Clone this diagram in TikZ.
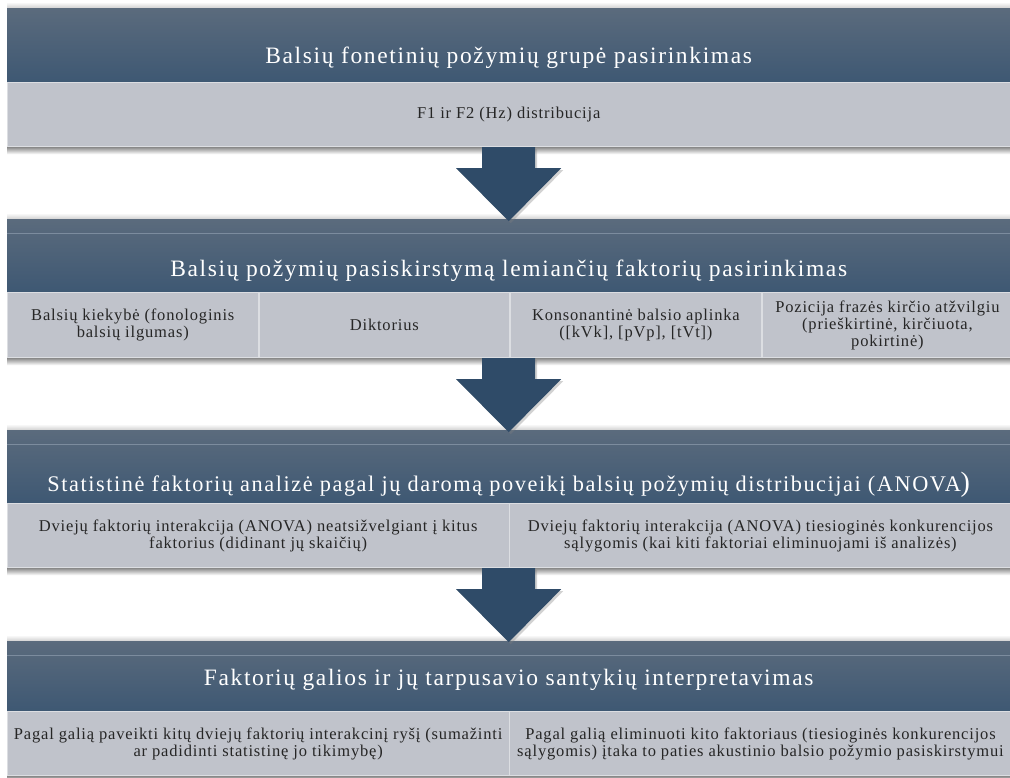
\documentclass[tikz,border=0pt]{standalone}
\usepackage{fontspec}
\setmainfont{Liberation Serif}[LetterSpace=5]
\newfontfamily\headfont{Liberation Serif}[LetterSpace=7]
\usetikzlibrary{positioning,calc,shadows}
\definecolor{hdrtop}{RGB}{91,107,125}
\definecolor{hdrbot}{RGB}{62,88,115}
\definecolor{hdrline}{RGB}{124,140,158}
\definecolor{cellfill}{RGB}{192,195,203}
\definecolor{cellline}{RGB}{220,222,226}
\definecolor{arrowfill}{RGB}{47,75,104}

\begin{document}
\begin{tikzpicture}[x=1pt,y=-1pt,
  hdr/.style={rectangle,top color=hdrtop,bottom color=hdrbot,minimum width=1003pt,anchor=north west,inner sep=0pt},
  htext/.style={text=white,font=\headfont\fontsize{23.5}{27}\selectfont,anchor=base},
  cell/.style={rectangle,fill=cellfill,draw=cellline,line width=0.8pt,anchor=north west,align=center,inner sep=0pt,text=black!85,font=\fontsize{16.5}{17}\selectfont},
  bigarrow/.style={fill=arrowfill,drop shadow={opacity=0.35,shadow xshift=2pt,shadow yshift=-2pt}},
  hline/.style={draw=hdrline,line width=0.8pt}]
   \useasboundingbox[fill=white] (0,0) rectangle (1010,777);
   \node[hdr,minimum height=75pt] (h1) at (7,7) {};
   \node[htext] (t1) at ($(h1.south)+(0,-19)$) {Balsių fonetinių požymių grupė pasirinkimas};
   \node[cell,minimum width=1003pt,minimum height=64pt,below=0pt of h1] (c1) {F1 ir F2 (Hz) distribucija};

   \node[hdr,minimum height=74pt] (h2) at (7,218) {};
   \node[htext] (t2) at ($(h2.south)+(0,-16)$) {Balsių požymių pasiskirstymą lemiančių faktorių pasirinkimas};
   \node[cell,minimum width=250.75pt,minimum height=65pt] (c2a) at (h2.south west) {Balsių kiekybė (fonologinis\\balsių ilgumas)};
   \node[cell,minimum width=250.75pt,minimum height=65pt,right=0pt of c2a] (c2b) {Diktorius};
   \node[cell,minimum width=250.75pt,minimum height=65pt,right=0pt of c2b] (c2c) {Konsonantinė balsio aplinka\\([kVk], [pVp], [tVt])};
   \node[cell,minimum width=250.75pt,minimum height=65pt,right=0pt of c2c] (c2d) {Pozicija frazės kirčio atžvilgiu\\(prieškirtinė, kirčiuota,\\pokirtinė)};

   \node[hdr,minimum height=74pt] (h3) at (7,429) {};
   \node[htext,font=\headfont\fontsize{22.3}{26}\selectfont] (t3) at ($(h3.south)+(0,-12)$) {Statistinė faktorių analizė pagal jų daromą poveikį balsių požymių distribucijai (ANOVA{\fontsize{28}{30}\selectfont)}};
   \node[cell,minimum width=501.5pt,minimum height=64pt] (c3a) at (h3.south west) {Dviejų faktorių interakcija (ANOVA) neatsižvelgiant į kitus\\faktorius (didinant jų skaičių)};
   \node[cell,minimum width=501.5pt,minimum height=64pt,right=0pt of c3a] (c3b) {Dviejų faktorių interakcija (ANOVA) tiesioginės konkurencijos\\sąlygomis (kai kiti faktoriai eliminuojami iš analizės)};

   \node[hdr,minimum height=71pt] (h4) at (7,640) {};
   \node[htext] (t4) at ($(h4.south)+(0,-26)$) {Faktorių galios ir jų tarpusavio santykių interpretavimas};
   \node[cell,minimum width=501.5pt,minimum height=64pt] (c4a) at (h4.south west) {Pagal galią paveikti kitų dviejų faktorių interakcinį ryšį (sumažinti\\ar padidinti statistinę jo tikimybę)};
   \node[cell,minimum width=501.5pt,minimum height=64pt,right=0pt of c4a] (c4b) {Pagal galią eliminuoti kito faktoriaus (tiesioginės konkurencijos\\sąlygomis) įtaka to paties akustinio balsio požymio pasiskirstymui};

   \foreach \h in {h2,h3,h4}
     \draw[hline] ($(\h.north west)+(0,15)$) -- ($(\h.north east)+(0,15)$);
   \foreach \h/\c in {h1/c1,h2/c2a,h3/c3a,h4/c4a} {
     \shade[top color=black!45,bottom color=white] (\h.west |- \c.south) rectangle ($(\h.east |- \c.south)+(0,7)$);
     \shade[top color=white,bottom color=black!15] ($(\h.north west)+(0,-5)$) rectangle (\h.north east);
   }
   \foreach \c in {c1,c2b,c3a}
     \fill[bigarrow] ($(\c.south -| h1.south)+(-26.5,0)$) -- ++(53,0) -- ++(0,21) -- ++(26,0)
       -- ++(-52.5,53) -- ++(-52.5,-53) -- ++(26,0) -- cycle;
\end{tikzpicture}
\end{document}
